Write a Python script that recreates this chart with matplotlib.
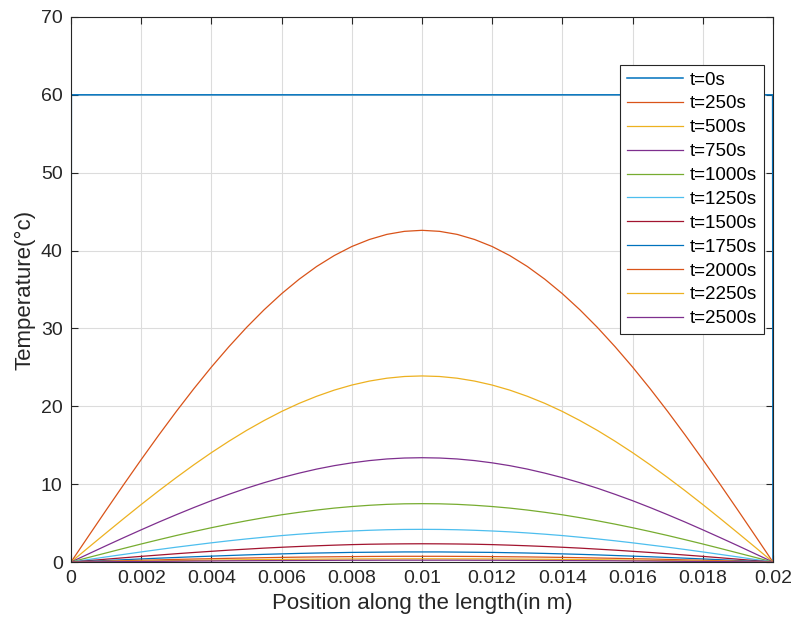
import matplotlib.pyplot as plt
from matplotlib.ticker import FuncFormatter

plt.rcParams['font.family'] = ['Liberation Sans', 'DejaVu Sans']

# position along the rod (m), read every 0.0005 m
x = [i * 0.0005 for i in range(41)]

# initial profile: jumps straight up to 60 right next to both ends
x0 = [0.0, 0.00001, 0.01999, 0.02]
T0 = [0, 60, 60, 0]

T250 = [0, 3.34, 6.66, 9.94, 13.16, 16.30, 19.34, 22.26, 25.04, 27.66, 30.12,
        32.39, 34.46, 36.32, 37.96, 39.36, 40.52, 41.42, 42.08, 42.47, 42.6,
        42.47, 42.08, 41.42, 40.52, 39.36, 37.96, 36.32, 34.46, 32.39, 30.12,
        27.66, 25.04, 22.26, 19.34, 16.30, 13.16, 9.94, 6.66, 3.34, 0]
T500 = [0, 1.88, 3.74, 5.58, 7.39, 9.15, 10.85, 12.49, 14.05, 15.52, 16.90,
        18.17, 19.34, 20.38, 21.29, 22.08, 22.73, 23.24, 23.61, 23.83, 23.9,
        23.83, 23.61, 23.24, 22.73, 22.08, 21.29, 20.38, 19.34, 18.17, 16.90,
        15.52, 14.05, 12.49, 10.85, 9.15, 7.39, 5.58, 3.74, 1.88, 0]
T750 = [0, 1.05, 2.10, 3.13, 4.14, 5.13, 6.08, 7.00, 7.88, 8.70, 9.48,
        10.19, 10.84, 11.42, 11.94, 12.38, 12.74, 13.03, 13.24, 13.36, 13.4,
        13.36, 13.24, 13.03, 12.74, 12.38, 11.94, 11.42, 10.84, 10.19, 9.48,
        8.70, 7.88, 7.00, 6.08, 5.13, 4.14, 3.13, 2.10, 1.05, 0]
T1000 = [0, 0.59, 1.17, 1.75, 2.32, 2.87, 3.41, 3.92, 4.41, 4.87, 5.30,
         5.70, 6.07, 6.39, 6.68, 6.93, 7.13, 7.29, 7.41, 7.48, 7.5,
         7.48, 7.41, 7.29, 7.13, 6.93, 6.68, 6.39, 6.07, 5.70, 5.30,
         4.87, 4.41, 3.92, 3.41, 2.87, 2.32, 1.75, 1.17, 0.59, 0]
T1250 = [0, 0.33, 0.66, 0.98, 1.30, 1.61, 1.91, 2.19, 2.47, 2.73, 2.97,
         3.19, 3.40, 3.58, 3.74, 3.88, 3.99, 4.08, 4.15, 4.19, 4.2,
         4.19, 4.15, 4.08, 3.99, 3.88, 3.74, 3.58, 3.40, 3.19, 2.97,
         2.73, 2.47, 2.19, 1.91, 1.61, 1.30, 0.98, 0.66, 0.33, 0]
T1500 = [0, 0.18, 0.37, 0.55, 0.73, 0.90, 1.07, 1.23, 1.38, 1.53, 1.66,
         1.79, 1.90, 2.00, 2.09, 2.17, 2.24, 2.29, 2.32, 2.34, 2.35,
         2.34, 2.32, 2.29, 2.24, 2.17, 2.09, 2.00, 1.90, 1.79, 1.66,
         1.53, 1.38, 1.23, 1.07, 0.90, 0.73, 0.55, 0.37, 0.18, 0]
T1750 = [0, 0.10, 0.20, 0.30, 0.40, 0.50, 0.59, 0.68, 0.76, 0.84, 0.92,
         0.99, 1.05, 1.11, 1.16, 1.20, 1.24, 1.26, 1.28, 1.30, 1.3,
         1.30, 1.28, 1.26, 1.24, 1.20, 1.16, 1.11, 1.05, 0.99, 0.92,
         0.84, 0.76, 0.68, 0.59, 0.50, 0.40, 0.30, 0.20, 0.10, 0]
T2000 = [0, 0.06, 0.12, 0.17, 0.23, 0.28, 0.34, 0.39, 0.43, 0.48, 0.52,
         0.56, 0.60, 0.63, 0.66, 0.68, 0.70, 0.72, 0.73, 0.74, 0.74,
         0.74, 0.73, 0.72, 0.70, 0.68, 0.66, 0.63, 0.60, 0.56, 0.52,
         0.48, 0.43, 0.39, 0.34, 0.28, 0.23, 0.17, 0.12, 0.06, 0]
T2250 = [0, 0.03, 0.07, 0.10, 0.13, 0.16, 0.19, 0.22, 0.25, 0.27, 0.30,
         0.32, 0.34, 0.36, 0.37, 0.39, 0.40, 0.41, 0.41, 0.42, 0.42,
         0.42, 0.41, 0.41, 0.40, 0.39, 0.37, 0.36, 0.34, 0.32, 0.30,
         0.27, 0.25, 0.22, 0.19, 0.16, 0.13, 0.10, 0.07, 0.03, 0]
T2500 = [0, 0.02, 0.04, 0.06, 0.07, 0.09, 0.11, 0.13, 0.14, 0.16, 0.17,
         0.18, 0.19, 0.20, 0.21, 0.22, 0.23, 0.23, 0.24, 0.24, 0.24,
         0.24, 0.24, 0.23, 0.23, 0.22, 0.21, 0.20, 0.19, 0.18, 0.17,
         0.16, 0.14, 0.13, 0.11, 0.09, 0.07, 0.06, 0.04, 0.02, 0]

labels = ['t=0s', 't=250s', 't=500s', 't=750s', 't=1000s', 't=1250s',
          't=1500s', 't=1750s', 't=2000s', 't=2250s', 't=2500s']
curves = [T250, T500, T750, T1000, T1250, T1500, T1750, T2000, T2250, T2500]

# matlab default line colours
colors = ['#0072BD', '#D95319', '#EDB120', '#7E2F8E', '#77AC30', '#4DBEEE', '#A2142F']

fig = plt.figure(figsize=(7.95, 6.28), dpi=100)
ax = fig.add_axes([0.0893, 0.105, 0.883, 0.868])

ax.plot(x0, T0, color=colors[0], lw=1.1, label=labels[0])
for i, T in enumerate(curves):
    ax.plot(x, T, color=colors[(i + 1) % 7], lw=0.9, label=labels[i + 1])

ax.set_xlim(0, 0.02)
ax.set_ylim(0, 70)
ax.set_xticks([0.002 * k for k in range(11)])
ax.set_yticks(range(0, 71, 10))
ax.xaxis.set_major_formatter(FuncFormatter(lambda v, p: '%g' % round(v, 4)))
ax.tick_params(direction='in', length=5, width=0.8, top=True, right=True,
               labelsize=14, colors='#262626', pad=6)
ax.grid(True, color='#dcdcdc', lw=0.8)
ax.set_axisbelow(True)
for s in ax.spines.values():
    s.set_color('#262626')
    s.set_linewidth(0.8)

ax.set_xlabel('Position along the length(in m)', fontsize=16, color='#262626', labelpad=4)
ax.set_ylabel('Temperature(°c)', fontsize=16, color='#262626', labelpad=4)

leg = ax.legend(loc='upper right', bbox_to_anchor=(0.987, 0.912), fontsize=13.5,
                handlelength=3.0, labelspacing=0.36, fancybox=False,
                framealpha=1, edgecolor='#262626', borderaxespad=0,
                handletextpad=0.37, borderpad=0.35)
leg.get_frame().set_linewidth(0.8)

fig.savefig('out.png', dpi=100)
